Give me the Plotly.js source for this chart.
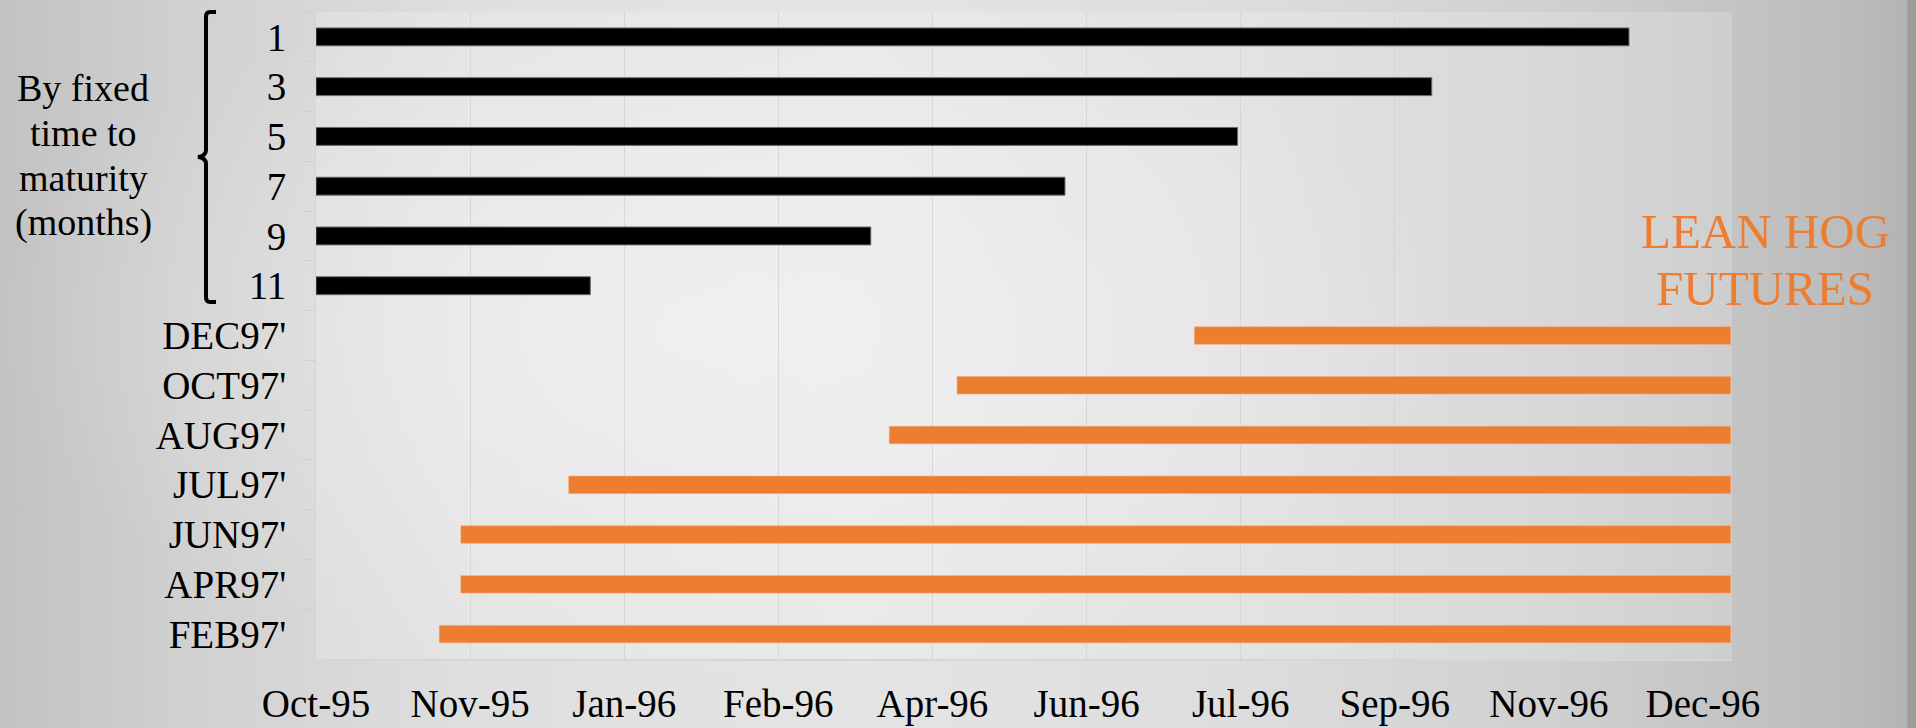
<!DOCTYPE html>
<html>
<head>
<meta charset="utf-8">
<script src="https://cdn.plot.ly/plotly-3.0.1.min.js"></script>
<style>
  html, body { margin: 0; padding: 0; width: 1916px; height: 728px; overflow: hidden; }
  body {
    background:
      radial-gradient(ellipse 55% 70% at 38% 45%, rgba(245,245,245,0.55), rgba(245,245,245,0) 70%),
      linear-gradient(90deg, #c2c2c2 0%, #d1d1d1 10%, #dfdfdf 25%, #e4e4e4 45%, #dddddd 65%, #cfcfcf 82%, #bbbbbb 97%, #b3b3b3 99.5%, #9c9c9c 99.6%, #9c9c9c 100%);
  }
  #chart { width: 1916px; height: 728px; }
</style>
</head>
<body>
<div id="chart"></div>
<script>
// ---------------- data ----------------
const categories = ['1', '3', '5', '7', '9', '11', "DEC97'", "OCT97'", "AUG97'", "JUL97'", "JUN97'", "APR97'", "FEB97'"];

const maturityLabels = ['1', '3', '5', '7', '9', '11'];
const maturityStart = ['1995-10-01', '1995-10-01', '1995-10-01', '1995-10-01', '1995-10-01', '1995-10-01'];
const maturityEnd = ['1996-11-30', '1996-09-27', '1996-07-26', '1996-05-31', '1996-03-29', '1995-12-29'];

const futuresLabels = ["DEC97'", "OCT97'", "AUG97'", "JUL97'", "JUN97'", "APR97'", "FEB97'"];
const futuresStart = ['1996-07-12', '1996-04-26', '1996-04-04', '1995-12-22', '1995-11-17', '1995-11-17', '1995-11-10'];
const futuresEnd = ['1997-01-02', '1997-01-02', '1997-01-02', '1997-01-02', '1997-01-02', '1997-01-02', '1997-01-02'];

const axisStart = '1995-10-01';
const axisEnd = '1997-01-02 10:00';
const tickStepDays = 50;

const groupLabelLines = ['By fixed', 'time to', 'maturity', '(months)'];
const seriesTitleLines = ['LEAN HOG', 'FUTURES'];

// ---------------- helpers ----------------
const DAY = 86400000;
const dur = (s, e) => s.map((d, i) => Date.parse(e[i]) - Date.parse(d));

const W = 1916, H = 728;
const M = { l: 316, r: 184, t: 12, b: 69 };
const PW = W - M.l - M.r, PH = H - M.t - M.b;
const px = x => (x - M.l) / PW;
const py = y => 1 - (y - M.t) / PH;

const serif = 'Liberation Serif, Times New Roman, Times, serif';

const traces = [
  {
    type: 'bar', orientation: 'h',
    y: maturityLabels,
    base: maturityStart,
    x: dur(maturityStart, maturityEnd),
    width: 0.36,
    marker: { color: '#000000', line: { color: '#6a6a6a', width: 1 } },
    hoverinfo: 'skip', showlegend: false
  },
  {
    type: 'bar', orientation: 'h',
    y: futuresLabels,
    base: futuresStart,
    x: dur(futuresStart, futuresEnd),
    width: 0.35,
    marker: { color: '#ED7D31', line: { color: '#F2A673', width: 0.6 } },
    hoverinfo: 'skip', showlegend: false
  }
];

// bracket path in pixel coords -> paper
const pts = [
  ['M', 216, 12], ['L', 210, 12], ['Q', 206, 12, 206, 17], ['L', 206, 150],
  ['Q', 206, 156, 198, 157], ['Q', 206, 158, 206, 164], ['L', 206, 297],
  ['Q', 206, 302, 210, 302], ['L', 216, 302]
];
const pathStr = pts.map(p => {
  const c = p[0]; const v = p.slice(1); const out = [];
  for (let i = 0; i < v.length; i += 2) out.push(px(v[i]).toFixed(5) + ',' + py(v[i + 1]).toFixed(5));
  return c + out.join(' ');
}).join(' ');

const groupY = [88, 133, 178, 222];
const titleY = [231, 288];

const annotations = [];
groupLabelLines.forEach((t, i) => annotations.push({
  xref: 'paper', yref: 'paper', x: px(83), y: py(groupY[i]),
  xanchor: 'center', yanchor: 'middle', showarrow: false, text: t,
  font: { family: serif, size: 38, color: '#000000' }
}));
seriesTitleLines.forEach((t, i) => annotations.push({
  xref: 'paper', yref: 'paper', x: px(1765), y: py(titleY[i]),
  xanchor: 'center', yanchor: 'middle', showarrow: false, text: t,
  font: { family: 'Palatino Linotype, Book Antiqua, Liberation Serif, serif', size: 49, color: '#ED7D31' }
}));

const layout = {
  width: W, height: H,
  margin: M,
  paper_bgcolor: 'rgba(0,0,0,0)',
  plot_bgcolor: 'rgba(255,255,255,0.18)',
  barmode: 'overlay',
  font: { family: serif, size: 39, color: '#000000' },
  xaxis: {
    type: 'date',
    range: [axisStart, axisEnd],
    tick0: axisStart,
    dtick: tickStepDays * DAY,
    tickformat: '%b-%y',
    showgrid: true, gridcolor: 'rgba(212,212,212,0.85)', gridwidth: 1,
    zeroline: false,
    showline: true, linecolor: '#d6d6d6', linewidth: 2,
    ticks: '', ticklabelstandoff: 9,
    tickfont: { family: serif, size: 39, color: '#000000' }
  },
  yaxis: {
    type: 'category',
    categoryorder: 'array', categoryarray: categories,
    range: [categories.length - 0.5, -0.5],
    showgrid: false, zeroline: false,
    showline: true, linecolor: '#d6d6d6', linewidth: 1,
    ticks: 'outside', tickson: 'boundaries', ticklen: 13, tickcolor: '#d0d0d0', tickwidth: 1,
    ticklabelstandoff: 21,
    tickfont: { family: serif, size: 39, color: '#000000' }
  },
  shapes: [{
    type: 'path', xref: 'paper', yref: 'paper', path: pathStr,
    line: { color: '#000000', width: 4 }, fillcolor: 'rgba(0,0,0,0)'
  }],
  annotations: annotations
};

Plotly.newPlot('chart', traces, layout, { staticPlot: true, displayModeBar: false });
</script>
</body>
</html>
